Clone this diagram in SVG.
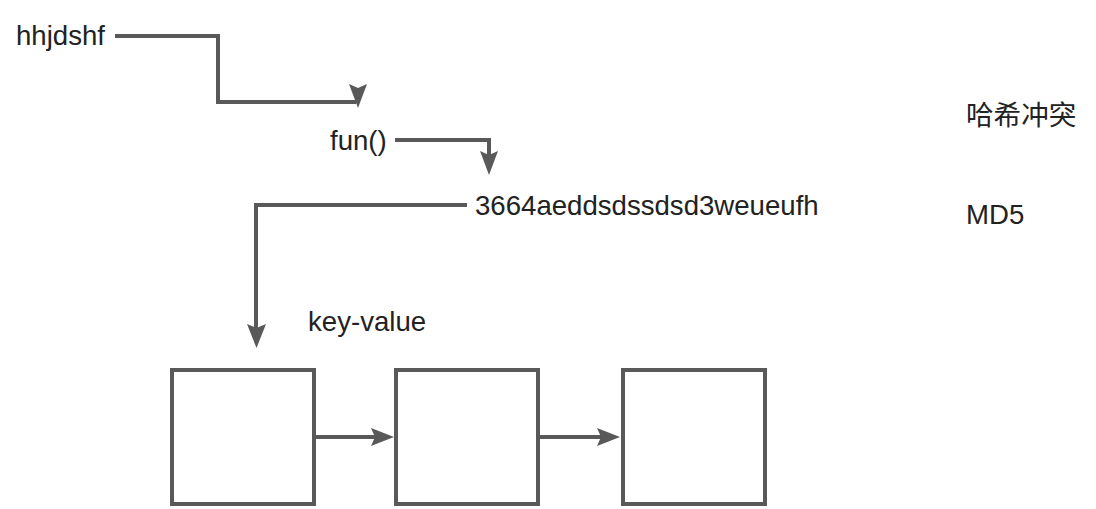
<svg xmlns="http://www.w3.org/2000/svg" width="1096" height="509" viewBox="0 0 1096 509">
<style>
text{font-family:"Liberation Sans","Noto Sans CJK SC",sans-serif;font-size:27.6px;fill:#222}
.ln{fill:none;stroke:#595959;stroke-width:4}
.ah{fill:#595959;stroke:none}
.box{fill:#fff;stroke:#595959;stroke-width:4}
</style>
<rect width="1096" height="509" fill="#fff"/>
<g id="connectors">
<path class="ln" d="M115,36 H218 V102 H356"/>
<polygon class="ah" points="349,84 358,88 367,84 358,108"/>
<path class="ln" d="M395,140 H489 V158"/>
<polygon class="ah" points="480,151 489,155 498,151 489,175"/>
<path class="ln" d="M467,205 H256 V330"/>
<polygon class="ah" points="247,324 256.5,328 266,324 256.5,348"/>
<path class="ln" d="M316,437 H376"/>
<polygon class="ah" points="371,428 375,437 371,446 394,437"/>
<path class="ln" d="M540,437 H602"/>
<polygon class="ah" points="597,428 601,437 597,446 620,437"/>
</g>
<g id="n-hhjdshf"><text x="16" y="45">hhjdshf</text></g>
<g id="n-fun"><text x="330" y="150">fun()</text></g>
<g id="n-hash"><text x="475" y="215">3664aeddsdssdsd3weueufh</text></g>
<g id="n-kv"><text x="308" y="331">key-value</text></g>
<g id="n-collision"><text x="966" y="125">哈希冲突</text></g>
<g id="n-md5"><text x="966" y="224">MD5</text></g>
<g id="box1"><rect class="box" x="172" y="370" width="142" height="134"/></g>
<g id="box2"><rect class="box" x="396" y="370" width="142" height="134"/></g>
<g id="box3"><rect class="box" x="623" y="370" width="142" height="134"/></g>
</svg>
